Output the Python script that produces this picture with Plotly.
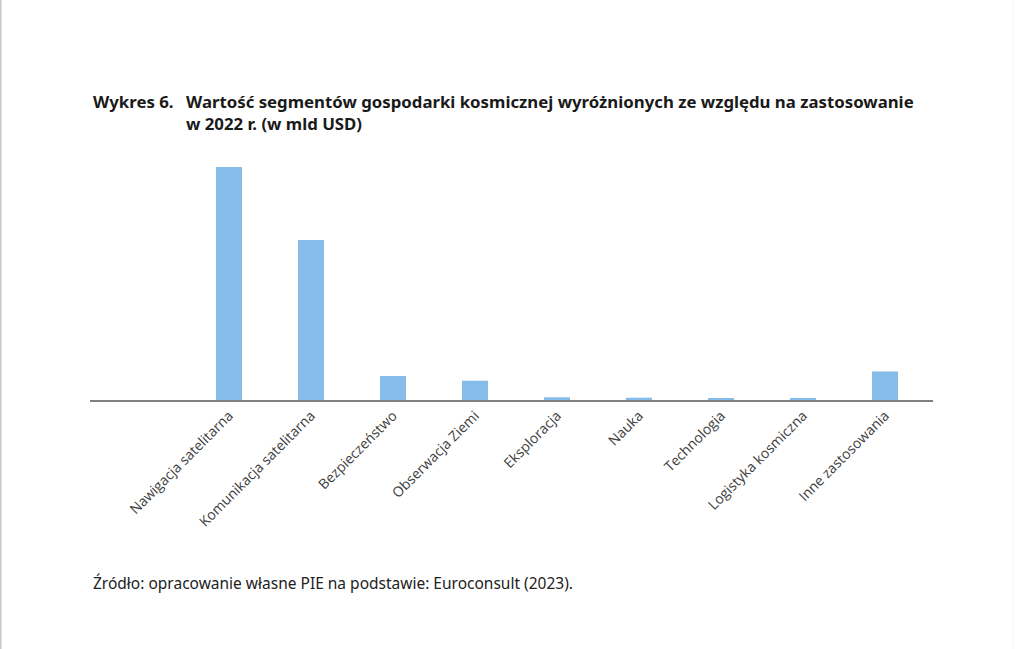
import plotly.graph_objects as go

categories = ["Nawigacja satelitarna", "Komunikacja satelitarna", "Bezpieczeństwo",
              "Obserwacja Ziemi", "Eksploracja", "Nauka", "Technologia",
              "Logistyka kosmiczna", "Inne zastosowania"]
values = [233, 160, 24, 19.3, 2.7, 2.3, 1.4, 1.7, 28.5]

W, H = 1024, 649
L, R, T, B = 90, 91, 150, 249
pw = W - L - R
ph = H - T - B


def py(ypix):
    return 1 + (T - ypix) / ph


def px(xpix):
    return (xpix - L) / pw


TF = dict(family="Noto Sans", size=16.8, color="#1a1a1a")

fig = go.Figure()
fig.add_trace(go.Bar(
    x=list(range(len(categories))), y=values,
    marker=dict(color="#85BCE9", line=dict(width=0)),
    width=0.317, hoverinfo="x+y",
))

fig.update_layout(
    width=W, height=H,
    margin=dict(l=L, r=R, t=T, b=B, autoexpand=False),
    paper_bgcolor="white", plot_bgcolor="white",
    showlegend=False,
    xaxis=dict(
        range=[-1.695, 8.585],
        tickmode="array", tickvals=list(range(len(categories))), ticktext=categories,
        tickangle=-45, showgrid=False, zeroline=False,
        showline=True, linecolor="#7f7f7f", linewidth=2,
        ticks="", ticklen=0,
        tickfont=dict(family="Open Sans", size=14, color="#404040"),
    ),
    yaxis=dict(range=[0, 250], visible=False, showgrid=False, zeroline=False),
    annotations=[
        dict(xref="paper", yref="paper", x=px(91), y=py(101),
             text="<b>Wykres 6.</b>", showarrow=False, xanchor="left", yanchor="middle",
             font=TF),
        dict(xref="paper", yref="paper", x=px(184), y=py(87.5),
             text="<b>Wartość segmentów gospodarki kosmicznej wyróżnionych ze względu na zastosowanie"
                  "<br>w 2022 r. (w mld USD)</b>",
             showarrow=False, xanchor="left", yanchor="top", align="left", font=TF),
        dict(xref="paper", yref="paper", x=px(91), y=py(583),
             text="Źródło: opracowanie własne PIE na podstawie: Euroconsult (2023).",
             showarrow=False, xanchor="left", yanchor="middle",
             font=dict(family="Noto Sans", size=15.5, color="#222222")),
    ],
    shapes=[
        dict(type="line", xref="paper", yref="paper", x0=px(0.8), x1=px(0.8),
             y0=py(0), y1=py(H), line=dict(color="#c8c8c8", width=1.5)),
        dict(type="line", xref="paper", yref="paper", x0=px(1013), x1=px(1013),
             y0=py(0), y1=py(H), line=dict(color="#f3f3f3", width=1)),
    ],
)

fig.write_html("out.html", config={"displayModeBar": False},
               post_script="document.body.style.margin='0';")
